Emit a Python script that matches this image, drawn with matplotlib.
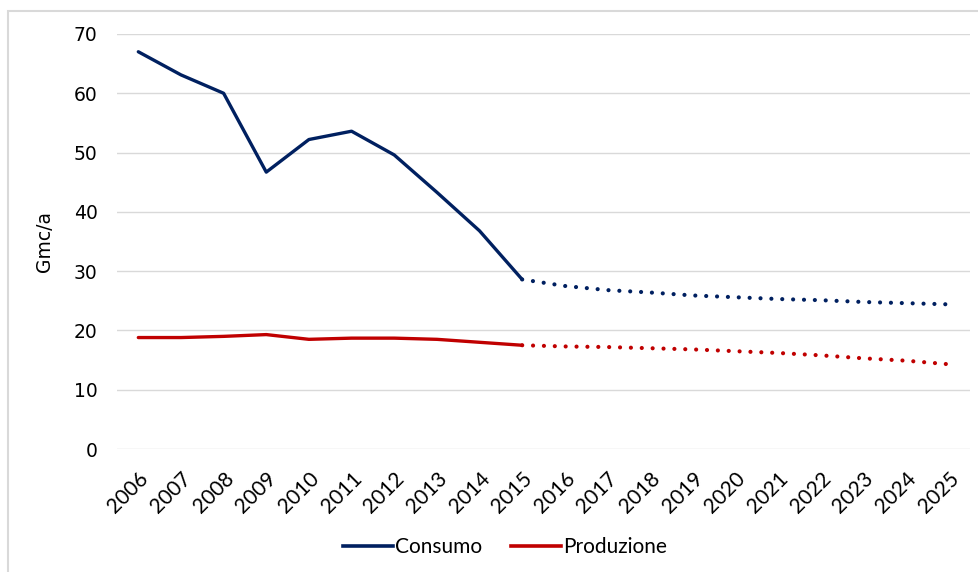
import matplotlib.pyplot as plt
from matplotlib.lines import Line2D
from matplotlib.patches import Rectangle

# anni e valori (Gmc/a); dal 2015 in poi sono previsioni
years = list(range(2006, 2026))
consumo_storico = [67.0, 63.1, 60.0, 46.7, 52.2, 53.6, 49.6, 43.3, 36.8, 28.6]
consumo_previsione = [28.6, 27.5, 26.8, 26.4, 25.9, 25.6, 25.3, 25.1, 24.8, 24.6, 24.4]
produzione_storico = [18.8, 18.8, 19.0, 19.3, 18.5, 18.7, 18.7, 18.5, 18.0, 17.5]
produzione_previsione = [17.5, 17.3, 17.2, 17.0, 16.8, 16.5, 16.2, 15.8, 15.3, 14.9, 14.3]

blu = '#002060'
rosso = '#C00000'
punti = (0, (0.01, 2.6))

fig = plt.figure(figsize=(9.79, 5.72), dpi=100)
ax = fig.add_axes([0.1195, 0.215, 0.8713, 0.7256])

# cornice grigia del grafico
fig.patches.append(Rectangle((8 / 979, -0.1), 1.1, 1 - 11 / 572 + 0.1,
                             transform=fig.transFigure, fill=False,
                             edgecolor='#D9D9D9', linewidth=1.5))

x_storico = list(range(len(consumo_storico)))
x_previsione = list(range(len(consumo_storico) - 1, len(years)))

ax.plot(x_storico, consumo_storico, color=blu, linewidth=2.4, solid_capstyle='round')
ax.plot(x_previsione, consumo_previsione, color=blu, linewidth=3,
        linestyle=punti, dash_capstyle='round')
ax.plot(x_storico, produzione_storico, color=rosso, linewidth=2.4, solid_capstyle='round')
ax.plot(x_previsione, produzione_previsione, color=rosso, linewidth=3,
        linestyle=punti, dash_capstyle='round')

ax.set_xlim(-0.5, len(years) - 0.5)
ax.set_ylim(0, 70)
ax.set_yticks(range(0, 71, 10))
ax.grid(axis='y', color='#D9D9D9', linewidth=1)
ax.set_axisbelow(True)
for s in ax.spines.values():
    s.set_visible(False)
ax.tick_params(length=0)
ax.tick_params(axis='y', labelsize=13.5, pad=14)

ax.set_xticks(range(len(years)))
ax.set_xticklabels([str(y) for y in years], rotation=45, ha='right',
                   rotation_mode='anchor', fontsize=15, family='Lato')
ax.tick_params(axis='x', pad=14)
ax.set_ylabel('Gmc/a', fontsize=13.5, labelpad=14)

handles = [Line2D([], [], color=blu, linewidth=2.6),
           Line2D([], [], color=rosso, linewidth=2.6)]
fig.legend(handles, ['Consumo', 'Produzione'], loc='center', ncol=2,
           bbox_to_anchor=(505 / 979, 1 - 547 / 572), frameon=False,
           prop={'family': 'Lato', 'size': 15}, handlelength=2.4,
           handletextpad=0.1, columnspacing=1.4)

fig.savefig('out.png', dpi=100)
